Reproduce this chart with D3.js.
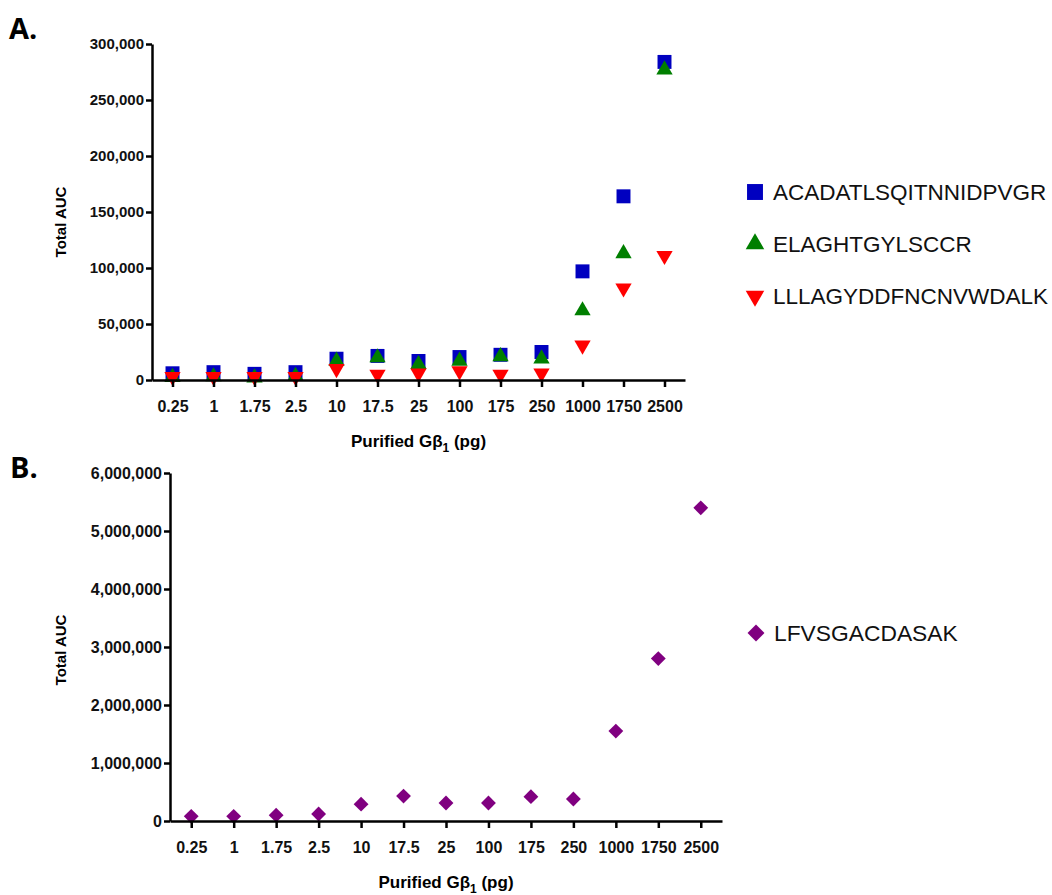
<!DOCTYPE html>
<html>
<head>
<meta charset="utf-8">
<script src="https://cdn.jsdelivr.net/npm/d3@7"></script>
<style>
  body { margin: 0; background: #fff; }
  svg text { font-family: "Liberation Sans", Arial, sans-serif; }
</style>
</head>
<body>
<div id="chart"></div>
<script>
// categories on the x axis (Purified Gβ1, pg)
const doses = ["0.25", "1", "1.75", "2.5", "10", "17.5", "25", "100", "175", "250", "1000", "1750", "2500"];

// panel A series (Total AUC)
const acadValues = [6000, 7000, 5500, 7000, 19000, 21500, 17000, 20500, 22500, 25000, 97000, 164000, 284000];
const elagValues = [2500, 3000, 2000, 3500, 17000, 20000, 14000, 17000, 21000, 19000, 62000, 113000, 277000];
const lllaValues = [3000, 3000, 3000, 3000, 10000, 5000, 6000, 8000, 5000, 6000, 31000, 82000, 111000];
const yTicksA = [0, 50000, 100000, 150000, 200000, 250000, 300000];

// panel B series
const lfvsValues = [80000, 80000, 100000, 120000, 290000, 430000, 310000, 310000, 420000, 380000, 1550000, 2800000, 5400000];
const yTicksB = [0, 1000000, 2000000, 3000000, 4000000, 5000000, 6000000];

const seriesA = [
  {name: "ACADATLSQITNNIDPVGR", values: acadValues, color: "#0000c0", shape: "square"},
  {name: "ELAGHTGYLSCCR", values: elagValues, color: "#007f00", shape: "up"},
  {name: "LLLAGYDDFNCNVWDALK", values: lllaValues, color: "#ff0000", shape: "down"}
];
const seriesB = [
  {name: "LFVSGACDASAK", values: lfvsValues, color: "#800080", shape: "diamond"}
];

const svg = d3.select("#chart").append("svg")
  .attr("width", 1052)
  .attr("height", 895);

const fmt = d3.format(",");

function marker(g, shape, color, k = 1) {
  if (shape == "square") {
    g.append("path").attr("d", d3.symbol(d3.symbolSquare, 195 * k)()).attr("fill", color);
  } else if (shape == "up") {
    g.append("path").attr("d", d3.symbol(d3.symbolTriangle, 115 * k)()).attr("fill", color);
  } else if (shape == "down") {
    g.append("path").attr("d", d3.symbol(d3.symbolTriangle, 115 * k)())
      .attr("transform", "rotate(180)").attr("fill", color);
  } else {
    g.append("path").attr("d", d3.symbol(d3.symbolSquare, 110 * k)())
      .attr("transform", "rotate(45)").attr("fill", color);
  }
}

function panel(opts) {
  const x = d3.scalePoint().domain(doses).range([opts.left, opts.right]).padding(0.5);
  const y = d3.scaleLinear().domain([0, opts.max]).range([opts.bottom, opts.top]);

  // points
  opts.series.forEach(s => {
    s.values.forEach((v, i) => {
      const g = svg.append("g").attr("transform", `translate(${x(doses[i])},${y(v)})`);
      marker(g, s.shape, s.color);
    });
  });

  // axes
  const ya = svg.append("g")
    .attr("transform", `translate(${opts.left},0)`)
    .call(d3.axisLeft(y).tickValues(opts.ticks).tickFormat(fmt).tickSize(6).tickSizeOuter(0).tickPadding(2));
  const xa = svg.append("g")
    .attr("transform", `translate(0,${opts.bottom})`)
    .call(d3.axisBottom(x).tickSize(7).tickSizeOuter(0).tickPadding(14));
  [ya, xa].forEach(a => {
    a.select(".domain").attr("stroke-width", 2.5);
    a.selectAll(".tick line").attr("stroke-width", 2.5);
    a.selectAll("text").attr("font-weight", "bold").attr("fill", "#111");
  });
  ya.selectAll("text").attr("font-size", opts.yFont);
  xa.selectAll("text").attr("font-size", 16);

  // axis titles
  svg.append("text")
    .attr("transform", `translate(${opts.ytitleX},${opts.ytitleY}) rotate(-90)`)
    .attr("text-anchor", "middle")
    .attr("font-size", 15).attr("font-weight", "bold")
    .text("Total AUC");

  const xt = svg.append("text")
    .attr("x", (opts.left + opts.right) / 2).attr("y", opts.bottom + 67)
    .attr("text-anchor", "middle")
    .attr("font-size", 17).attr("font-weight", "bold");
  xt.append("tspan").text("Purified G\u03b2");
  xt.append("tspan").attr("font-size", 12).attr("dy", 5).text("1");
  xt.append("tspan").attr("dy", -5).text(" (pg)");

  // panel letter
  svg.append("text")
    .attr("x", opts.labelX).attr("y", opts.labelY)
    .attr("font-size", 29).attr("font-weight", "bold")
    .style("font-family", "'Open Sans', sans-serif")
    .text(opts.label);

  // legend
  opts.series.forEach((s, i) => {
    const g = svg.append("g").attr("transform", `translate(${opts.legX},${opts.legY + i * 52})`);
    marker(g, s.shape, s.color, 1.3);
    g.append("text").attr("x", 18).attr("y", 8)
      .attr("font-size", opts.legFont).attr("fill", "#111")
      .text(s.name);
  });
}

panel({
  series: seriesA, max: 300000, ticks: yTicksA, yFont: 15,
  left: 152, right: 685, top: 44, bottom: 380,
  ytitleX: 66, ytitleY: 222,
  label: "A.", labelX: 9, labelY: 39,
  legX: 755, legY: 192, legFont: 22.5
});

panel({
  series: seriesB, max: 6000000, ticks: yTicksB, yFont: 16,
  left: 170, right: 722, top: 473, bottom: 821,
  ytitleX: 66, ytitleY: 650,
  label: "B.", labelX: 10, labelY: 478,
  legX: 756, legY: 633, legFont: 22.8
});
</script>
</body>
</html>
